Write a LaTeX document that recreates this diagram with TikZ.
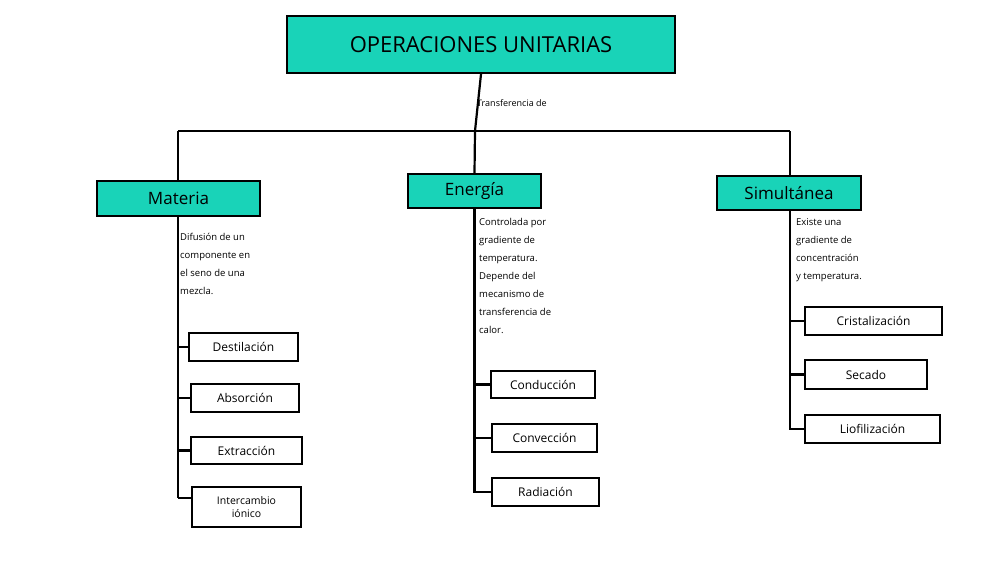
\documentclass[tikz,border=0pt]{standalone}
\usepackage{fontspec}
\setmainfont{Open Sans}
\definecolor{teal1}{HTML}{19D3B8}
\begin{document}
\begin{tikzpicture}[x=1pt,y=-1pt,
  ln/.style={line width=2.2pt},
  hbox/.style={draw,line width=2.2pt,fill=teal1,inner sep=0pt},
  cbox/.style={draw,line width=2.2pt,fill=white,inner sep=0pt,font=\fontsize{12}{14}\selectfont,align=center},
  txt/.style={anchor=north west,align=left,inner sep=0pt,font=\fontsize{9.5}{18}\selectfont}]
\useasboundingbox (0,0) rectangle (990,568);
\node[hbox,minimum width=388,minimum height=57,font=\fontsize{22}{26}\selectfont] (title) at (481,44.5) {OPERACIONES UNITARIAS};
\node[anchor=west,inner sep=0pt,font=\fontsize{9}{11}\selectfont] (tl) at (477,103) {Transferencia de};
\coordinate (j) at (475,131);
\coordinate (l) at (178,131);
\coordinate (r) at (790,131);
\draw[ln] (title.south) -- (j);
\draw[ln] (l) -- (r);
\node[hbox,minimum width=163,minimum height=35,font=\fontsize{17}{20}\selectfont] (mat) at (178.5,198.5) {Materia};
\node[hbox,minimum width=133,minimum height=34,font=\fontsize{17}{20}\selectfont] (ene) at (474.5,191) {Energía};
\node[hbox,minimum width=144,minimum height=34,font=\fontsize{17}{20}\selectfont] (sim) at (789,193) {Simultánea};
\draw[ln] (l) -- (l|-mat.north);
\draw[ln] (j) -- (ene.north);
\draw[ln] (r) -- (r|-sim.north);
\node[txt] (tm) at (180,233) {Difusión de un\\componente en\\el seno de una\\mezcla.};
\node[txt] (te) at (479,218) {Controlada por\\gradiente de\\temperatura.\\Depende del\\mecanismo de\\transferencia de\\calor.};
\node[txt] (ts) at (796,218) {Existe una\\gradiente de\\concentración\\y temperatura.};
% Materia children
\node[cbox,minimum width=109,minimum height=28] (d) at (243.5,347) {Destilación};
\node[cbox,minimum width=108,minimum height=28] (a) at (245,398) {Absorción};
\node[cbox,minimum width=111,minimum height=27] (e) at (246.5,450.5) {Extracción};
\node[cbox,minimum width=109,minimum height=40,font=\fontsize{10.5}{13}\selectfont] (i) at (246.5,507) {Intercambio\\iónico};
\coordinate (mb) at (178,498);
\draw[ln] (l|-mat.south) -- (mb);
\draw[ln] (l|-d.west) -- (d.west);
\draw[ln] (l|-a.west) -- (a.west);
\draw[ln] (l|-e.west) -- (e.west);
\draw[ln] (mb) -- (mb-|i.west);
% Energia children
\node[cbox,minimum width=104,minimum height=27] (c1) at (543,384.5) {Conducción};
\node[cbox,minimum width=105,minimum height=28] (c2) at (544.5,438) {Convección};
\node[cbox,minimum width=107,minimum height=28] (c3) at (545.5,492) {Radiación};
\draw[ln] (ene.south) -- (ene.south|-c3.west) -- (c3.west);
\draw[ln] (ene.south|-c1.west) -- (c1.west);
\draw[ln] (ene.south|-c2.west) -- (c2.west);
% Simultanea children
\node[cbox,minimum width=137,minimum height=28] (s1) at (873.5,321) {Cristalización};
\node[cbox,minimum width=122,minimum height=29] (s2) at (866,374.5) {Secado};
\node[cbox,minimum width=135,minimum height=28] (s3) at (872.5,429) {Liofilización};
\draw[ln] (r|-sim.south) -- (r|-s3.west) -- (s3.west);
\draw[ln] (r|-s1.west) -- (s1.west);
\draw[ln] (r|-s2.west) -- (s2.west);
\end{tikzpicture}
\end{document}
